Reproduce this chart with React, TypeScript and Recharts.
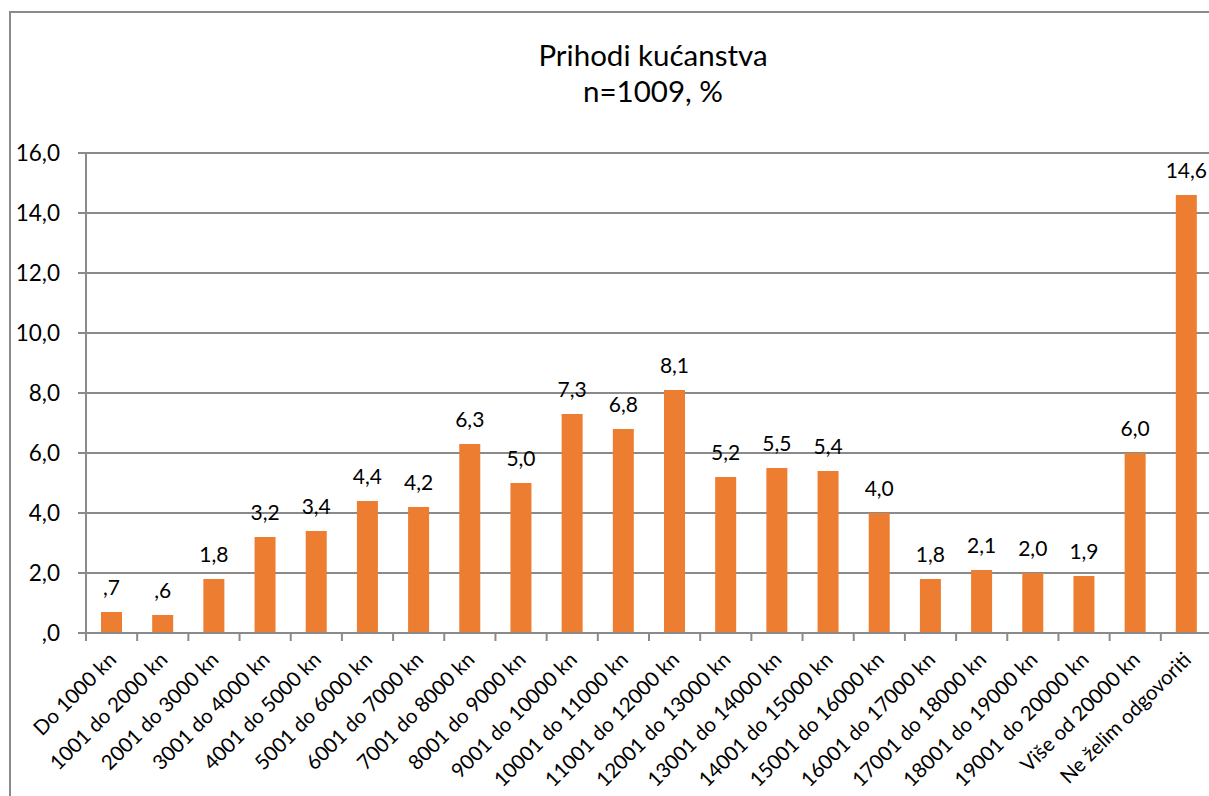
import { BarChart, Bar, XAxis, YAxis, CartesianGrid, LabelList } from 'recharts'

const categories = [
  'Do 1000 kn',
  '1001 do 2000 kn',
  '2001 do 3000 kn',
  '3001 do 4000 kn',
  '4001 do 5000 kn',
  '5001 do 6000 kn',
  '6001 do 7000 kn',
  '7001 do 8000 kn',
  '8001 do 9000 kn',
  '9001 do 10000 kn',
  '10001 do 11000 kn',
  '11001 do 12000 kn',
  '12001 do 13000 kn',
  '13001 do 14000 kn',
  '14001 do 15000 kn',
  '15001 do 16000 kn',
  '16001 do 17000 kn',
  '17001 do 18000 kn',
  '18001 do 19000 kn',
  '19001 do 20000 kn',
  'Više od 20000 kn',
  'Ne želim odgovoriti',
]

const percents = [0.7, 0.6, 1.8, 3.2, 3.4, 4.4, 4.2, 6.3, 5.0, 7.3, 6.8, 8.1, 5.2, 5.5, 5.4, 4.0, 1.8, 2.1, 2.0, 1.9, 6.0, 14.6]

const yTicks = [0, 2, 4, 6, 8, 10, 12, 14, 16]

const chartData = categories.map((name, i) => ({ name, value: percents[i] }))

const GRAY = '#8a8a8a'
const FONT = 'Lato, sans-serif'

// Excel style: 0,7 -> ,7
const fmt = (v: number) => v.toFixed(1).replace('.', ',').replace(/^0/, '')

function CategoryTick(props: any) {
  const { x, y, payload } = props
  const half = payload?.offset ?? 25.6
  return (
    <g>
      <line x1={x - half} y1={y} x2={x - half} y2={y + 8} stroke={GRAY} strokeWidth={2} />
      <text
        x={x + 6}
        y={y + 28}
        textAnchor="end"
        transform={`rotate(-45, ${x + 6}, ${y + 28})`}
        fontFamily={FONT}
        fontSize={20.5}
        fill="#000"
      >
        {payload.value}
      </text>
    </g>
  )
}

export default function App() {
  return (
    <div style={{ position: 'absolute', left: 0, top: 0, width: 1209, height: 796, overflow: 'hidden', background: '#fff' }}>
      <div style={{ position: 'absolute', left: 9, top: 11, width: 1300, height: 900, border: `2px solid ${GRAY}` }} />
      <svg width={1209} height={130} style={{ position: 'absolute', left: 0, top: 0 }}>
        <text x={653} y={66} textAnchor="middle" fontFamily={FONT} fontSize={29.5} fill="#000">
          Prihodi kućanstva
        </text>
        <text x={653} y={102} textAnchor="middle" fontFamily={FONT} fontSize={29.5} fill="#000">
          n=1009, %
        </text>
      </svg>
      <div style={{ position: 'absolute', left: 0, top: 0 }}>
        <BarChart
          width={1240}
          height={796}
          data={chartData}
          margin={{ top: 153, right: 28, bottom: 0, left: 0 }}
        >
          <CartesianGrid horizontal vertical={false} stroke={GRAY} strokeWidth={2} />
          <XAxis
            dataKey="name"
            interval={0}
            height={163}
            axisLine={{ stroke: GRAY, strokeWidth: 2 }}
            tickLine={false}
            tickSize={0}
            tickMargin={0}
            tick={<CategoryTick />}
          />
          <YAxis
            width={86}
            domain={[0, 16]}
            ticks={yTicks}
            interval={0}
            tickFormatter={fmt}
            axisLine={{ stroke: GRAY, strokeWidth: 2 }}
            tickLine={{ stroke: GRAY, strokeWidth: 2 }}
            tickSize={8}
            tickMargin={18}
            tick={{ fill: '#000', fontFamily: FONT, fontSize: 22.5 }}
          />
          <Bar dataKey="value" fill="#ED7D31" barSize={21} isAnimationActive={false}>
            <LabelList
              dataKey="value"
              position="top"
              offset={17}
              formatter={(v: any) => fmt(Number(v))}
              style={{ fill: '#000', fontFamily: FONT, fontSize: 21 }}
            />
          </Bar>
        </BarChart>
      </div>
    </div>
  )
}
